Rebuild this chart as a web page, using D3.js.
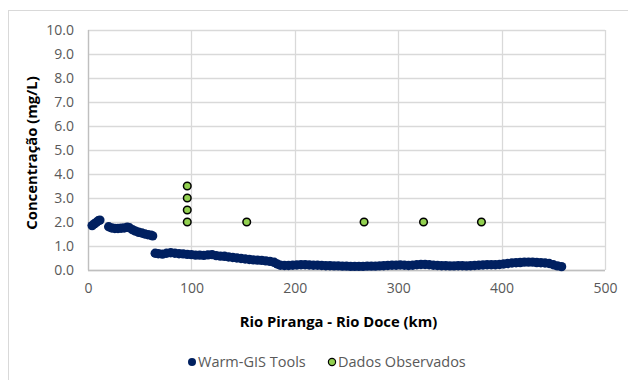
<!DOCTYPE html>
<html><head><meta charset="utf-8">
<script src="https://cdn.jsdelivr.net/npm/d3@7"></script>
<style>body{margin:0;background:#fff}svg{display:block;font-family:"Open Sans",sans-serif}</style>
</head><body><svg id="c" width="628" height="380"></svg>
<script>
const xTicks = [0, 100, 200, 300, 400, 500];
const yTicks = [0,1,2,3,4,5,6,7,8,9,10];
const seriesNames = ["Warm-GIS Tools", "Dados Observados"];
const modelKm = [4,6,8,10,11.5,
 20,23,26,29,32,35,38,40,43,46,49,52,55,58,61,62.5,
 65,68,72,76,80,84,88,92,96,100,104,108,112,116,120,124,128,132,136,140,144,148,152,156,160,164,168,172,176,180,183,186,190,194,198,202,206,210,214,218,222,226,230,234,238,242,246,250,254,258,262,266,270,274,278,282,286,290,294,298,302,306,310,314,318,322,326,330,334,338,342,346,350,354,358,362,366,370,374,378,382,386,390,394,398,402,406,410,414,418,422,426,430,434,438,442,446,450,454,458];
const modelConc = [1.85,1.92,1.98,2.05,2.08,
 1.80,1.75,1.73,1.73,1.74,1.75,1.78,1.76,1.68,1.62,1.57,1.54,1.50,1.47,1.45,1.42,
 0.70,0.68,0.66,0.70,0.72,0.70,0.68,0.67,0.65,0.64,0.62,0.62,0.61,0.63,0.64,0.60,0.58,0.57,0.54,0.52,0.50,0.48,0.46,0.44,0.42,0.41,0.40,0.38,0.36,0.32,0.25,0.20,0.19,0.19,0.20,0.21,0.22,0.22,0.21,0.20,0.20,0.19,0.18,0.18,0.17,0.17,0.16,0.16,0.15,0.15,0.15,0.15,0.16,0.16,0.16,0.17,0.18,0.19,0.20,0.20,0.21,0.20,0.19,0.20,0.22,0.23,0.23,0.22,0.20,0.19,0.18,0.18,0.17,0.17,0.18,0.18,0.17,0.18,0.19,0.20,0.21,0.22,0.22,0.22,0.23,0.25,0.27,0.29,0.30,0.31,0.33,0.33,0.33,0.31,0.30,0.29,0.27,0.22,0.17,0.14];
const obsKm = [96,96,96,96,153.5,267,324.5,380.5];
const obsConc = [2.0,2.5,3.0,3.5,2.0,2.0,2.0,2.0];

const svg = d3.select("#c");
const L=88, R=605, T=30, B=270;
const x = d3.scaleLinear().domain([0,500]).range([L,R]);
const y = d3.scaleLinear().domain([0,10]).range([B,T]);

svg.append("rect").attr("x",8.5).attr("y",10.5).attr("width",700).attr("height",500)
  .attr("fill","#fff").attr("stroke","#d9d9d9");

const g = svg.append("g");
g.selectAll(".gy").data(yTicks).join("line")
  .attr("x1",L).attr("x2",R).attr("y1",d=>Math.round(y(d))+0.5).attr("y2",d=>Math.round(y(d))+0.5)
  .attr("stroke","#d9d9d9").attr("stroke-width",1.3);
g.selectAll(".gx").data(xTicks).join("line")
  .attr("y1",T).attr("y2",B).attr("x1",d=>Math.round(x(d))+0.5).attr("x2",d=>Math.round(x(d))+0.5)
  .attr("stroke","#d9d9d9").attr("stroke-width",1.3);
svg.append("line").attr("x1",L+0.5).attr("x2",L+0.5).attr("y1",T).attr("y2",B+0.5).attr("stroke","#bfbfbf").attr("stroke-width",1.3);
svg.append("line").attr("x1",L).attr("x2",R).attr("y1",B+0.5).attr("y2",B+0.5).attr("stroke","#bfbfbf").attr("stroke-width",1.3);

const yAxis = d3.axisLeft(y).tickValues(yTicks).tickFormat(d3.format(".1f")).tickSize(0).tickPadding(14);
const ya = svg.append("g").attr("transform",`translate(${L},0)`).call(yAxis);
ya.select(".domain").remove();
ya.selectAll("text").attr("font-size",14).attr("fill","#595959").attr("font-family","Open Sans");

const xAxis = d3.axisBottom(x).tickValues(xTicks).tickFormat(d3.format("d")).tickSize(0).tickPadding(13);
const xa = svg.append("g").attr("transform",`translate(0,${B})`).call(xAxis);
xa.select(".domain").remove();
xa.selectAll("text").attr("font-size",14).attr("fill","#595959").attr("font-family","Open Sans");

svg.append("text").attr("x",(L+R)/2-8).attr("y",327).attr("text-anchor","middle")
  .attr("font-size",14.8).attr("font-weight","bold").attr("fill","#000").text("Rio Piranga - Rio Doce (km)");
svg.append("text").attr("transform","translate(37,153) rotate(-90)").attr("text-anchor","middle")
  .attr("font-size",14.8).attr("font-weight","bold").attr("fill","#000").text("Concentração (mg/L)");

const model = modelKm.map((k,i)=>({k, v:modelConc[i]}));
svg.append("g").selectAll("circle").data(model).join("circle")
  .attr("cx",d=>x(d.k)).attr("cy",d=>y(d.v)).attr("r",4.7).attr("fill","#002060");
const obs = obsKm.map((k,i)=>({k, v:obsConc[i]}));
svg.append("g").selectAll("circle").data(obs).join("circle")
  .attr("cx",d=>x(d.k)).attr("cy",d=>y(d.v)).attr("r",3.8).attr("fill","#92d050")
  .attr("stroke","#000").attr("stroke-width",1.5);

const leg = svg.append("g");
const lx = [192, 332];
leg.selectAll("circle").data(seriesNames).join("circle")
  .attr("cx",(d,i)=>lx[i]).attr("cy",362).attr("r",(d,i)=>i?3.6:4)
  .attr("fill",(d,i)=>i?"#92d050":"#002060").attr("stroke",(d,i)=>i?"#000":"none").attr("stroke-width",1.2);
leg.selectAll("text").data(seriesNames).join("text")
  .attr("x",(d,i)=>lx[i]+6).attr("y",362).attr("dy","0.35em")
  .attr("font-size",14.5).attr("fill","#595959").text(d=>d);
</script></body></html>
